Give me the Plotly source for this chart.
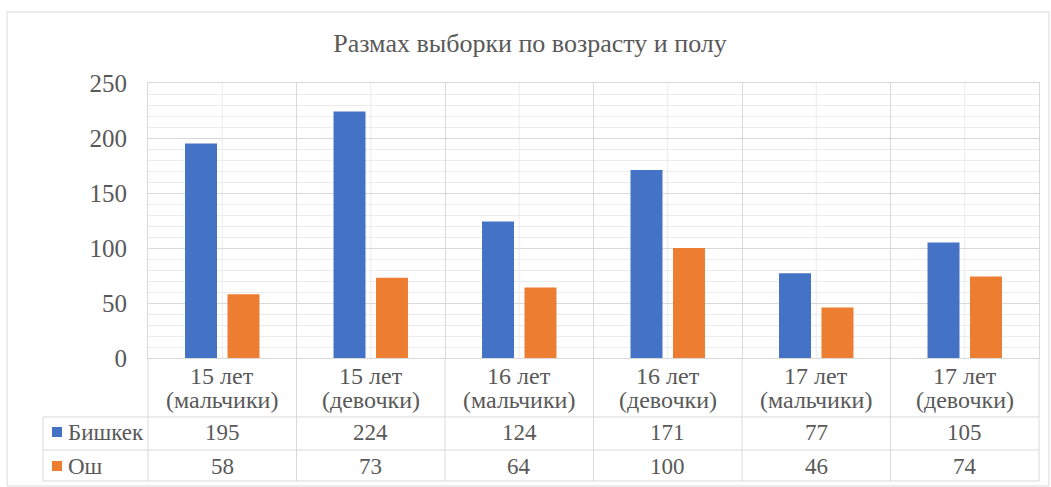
import plotly.graph_objects as go

categories = ["15 лет<br>(мальчики)", "15 лет<br>(девочки)", "16 лет<br>(мальчики)",
              "16 лет<br>(девочки)", "17 лет<br>(мальчики)", "17 лет<br>(девочки)"]
series_names = ["Бишкек", "Ош"]
bishkek = [195, 224, 124, 171, 77, 105]
osh = [58, 73, 64, 100, 46, 74]
y_ticks = [0, 50, 100, 150, 200, 250]
title_text = "Размах выборки по возрасту и полу"

BLUE = "#4472C4"
ORANGE = "#ED7D31"
TXT = "#595959"
GRID = "#d9d9d9"
MINOR = "#ececec"
FONT = "Liberation Serif"

W, H = 1051, 487
def px(x): return x / W
def py(y): return 1 - y / H

L, R, T, B = 148, 1039, 83, 358
ROW1, ROW2, ROW3 = 417, 450, 481
TL = 43
ROW_CENTERS = [432, 466]

fig = go.Figure()
fig.add_trace(go.Bar(x=categories, y=bishkek, name=series_names[0], marker_color=BLUE, marker_line_width=0))
fig.add_trace(go.Bar(x=categories, y=osh, name=series_names[1], marker_color=ORANGE, marker_line_width=0))

n = len(categories)
cw = (R - L) / n
shapes = []
line = dict(color=GRID, width=1)
# outer frame
shapes.append(dict(type="rect", xref="paper", yref="paper", x0=px(7), x1=px(1049), y0=py(486), y1=py(12),
                   line=dict(color="#d9d9d9", width=1), layer="below"))
# center minor vertical lines in plot area
for c in categories:
    shapes.append(dict(type="line", xref="x", yref="paper", x0=c, x1=c, y0=py(B), y1=py(T),
                       line=dict(color=MINOR, width=1), layer="below"))
# table vertical lines
for i in range(n + 1):
    xx = px(L + i * cw)
    shapes.append(dict(type="line", xref="paper", yref="paper", x0=xx, x1=xx, y0=py(ROW3), y1=py(B), line=line))
shapes.append(dict(type="line", xref="paper", yref="paper", x0=px(TL), x1=px(TL), y0=py(ROW3), y1=py(ROW1), line=line))
for yy in (ROW1, ROW2, ROW3):
    shapes.append(dict(type="line", xref="paper", yref="paper", x0=px(TL), x1=px(R), y0=py(yy), y1=py(yy), line=line))
# legend keys
for k, col in enumerate([BLUE, ORANGE]):
    yc = ROW_CENTERS[k]
    shapes.append(dict(type="rect", xref="paper", yref="paper", x0=px(52), x1=px(62), y0=py(yc + 5), y1=py(yc - 5),
                       line=dict(width=0), fillcolor=col))

annotations = []
for c in categories:
    l1, l2 = c.split("<br>")
    annotations.append(dict(x=c, xref="x", y=py(376), yref="paper", text=l1, showarrow=False,
                            font=dict(family=FONT, size=24, color=TXT), xanchor="center", yanchor="middle"))
    annotations.append(dict(x=c, xref="x", y=py(400), yref="paper", text=l2, showarrow=False,
                            font=dict(family=FONT, size=24, color=TXT), xanchor="center", yanchor="middle"))
for k, vals in enumerate([bishkek, osh]):
    yc = ROW_CENTERS[k]
    annotations.append(dict(x=px(66), xref="paper", y=py(yc), yref="paper", text=series_names[k], showarrow=False,
                            font=dict(family=FONT, size=23, color=TXT), xanchor="left", yanchor="middle"))
    for c, v in zip(categories, vals):
        annotations.append(dict(x=c, xref="x", y=py(yc), yref="paper", text=str(v), showarrow=False,
                                font=dict(family=FONT, size=23, color=TXT), xanchor="center", yanchor="middle"))

fig.update_layout(
    width=W, height=H,
    margin=dict(l=0, r=0, t=0, b=0, autoexpand=False),
    font=dict(family=FONT, color=TXT),
    paper_bgcolor="white", plot_bgcolor="white",
    barmode="group", bargap=0.428, bargroupgap=0.247,
    showlegend=False,
    title=dict(text=title_text, x=px(530), xref="paper", xanchor="center", y=py(43), yref="paper",
               yanchor="middle", font=dict(family=FONT, size=26, color=TXT)),
    xaxis=dict(domain=[px(L), px(R)], tickson="boundaries", showgrid=True, gridcolor=GRID, automargin=False,
               showticklabels=False, ticks="", showline=True, linecolor=GRID, mirror=True, zeroline=False),
    yaxis=dict(domain=[py(B), py(T)], range=[0, 250], tickvals=y_ticks, showgrid=True, gridcolor=GRID,
               minor=dict(dtick=10, showgrid=True, gridcolor=MINOR), zeroline=False, automargin=False,
               showline=True, linecolor=GRID, mirror=True, ticks="",
               ticklabelstandoff=15, tickfont=dict(family=FONT, size=25, color=TXT)),
    shapes=shapes, annotations=annotations,
)
fig.write_html("out.html", config={"displayModeBar": False},
               post_script="document.body.style.margin='0';")
